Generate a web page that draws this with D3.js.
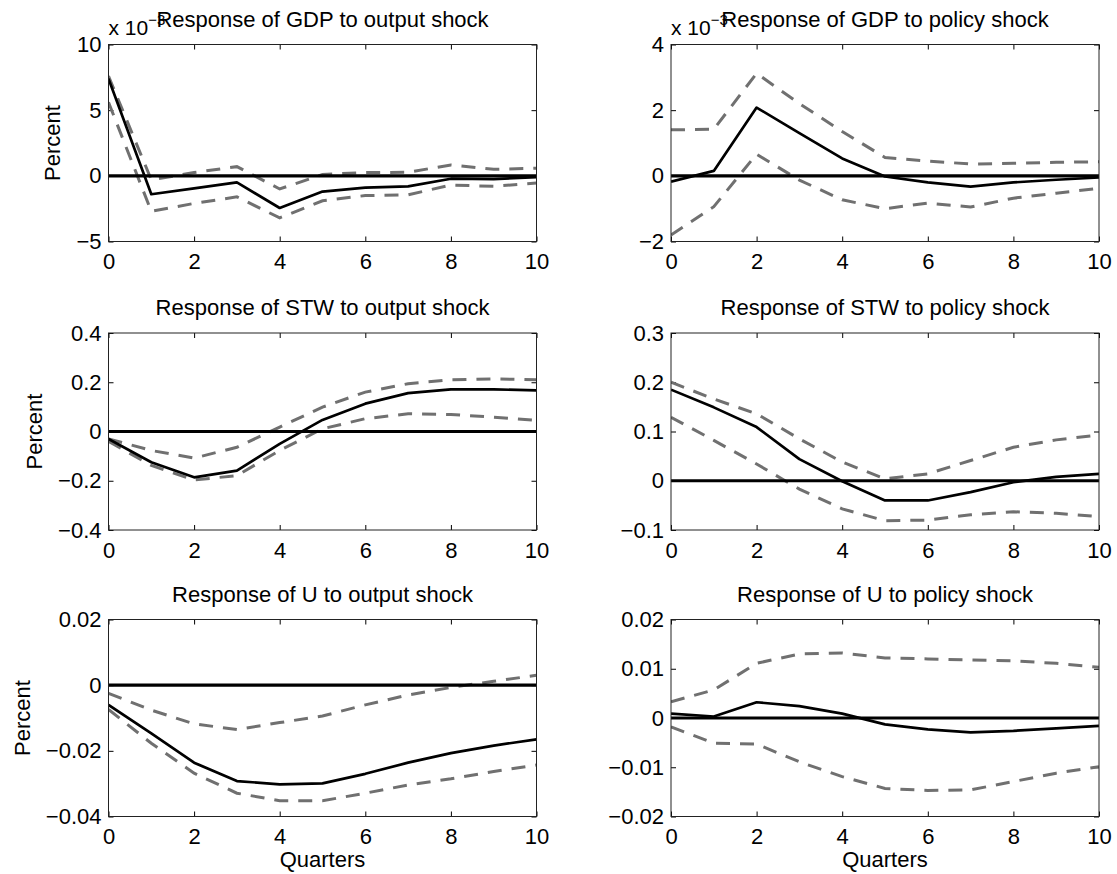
<!DOCTYPE html>
<html>
<head>
<meta charset="utf-8">
<script src="https://cdn.jsdelivr.net/npm/d3@7"></script>
<style>
  body { margin: 0; background: #fff; }
  svg { display: block; background: #fff; }
  text { font-family: "Liberation Sans", Arial, Helvetica, sans-serif; fill: #000; }
</style>
</head>
<body>
<svg id="chart" width="1117" height="874"></svg>
<script>
// Impulse responses over quarters 0..10: point estimate with upper/lower bands
const quarters = [0, 1, 2, 3, 4, 5, 6, 7, 8, 9, 10];
const xTicks = [0, 2, 4, 6, 8, 10];

// GDP responses, in units of 10^-3 percent
const gdpOutputIrf   = [7.4, -1.4, -0.95, -0.5, -2.45, -1.2, -0.9, -0.8, -0.22, -0.25, -0.1];
const gdpOutputUpper = [7.6, -0.3, 0.25, 0.7, -1.0, 0.1, 0.25, 0.27, 0.83, 0.5, 0.58];
const gdpOutputLower = [5.6, -2.7, -2.1, -1.6, -3.2, -1.9, -1.5, -1.45, -0.7, -0.8, -0.55];

const gdpPolicyIrf   = [-0.18, 0.15, 2.08, 1.3, 0.53, -0.02, -0.2, -0.33, -0.2, -0.12, -0.05];
const gdpPolicyUpper = [1.4, 1.42, 3.12, 2.2, 1.35, 0.56, 0.45, 0.36, 0.38, 0.41, 0.43];
const gdpPolicyLower = [-1.8, -0.94, 0.66, -0.13, -0.73, -1.0, -0.83, -0.95, -0.68, -0.53, -0.38];

// STW responses, percent
const stwOutputIrf   = [-0.03, -0.125, -0.186, -0.159, -0.05, 0.047, 0.113, 0.156, 0.171, 0.171, 0.167];
const stwOutputUpper = [-0.03, -0.077, -0.108, -0.064, 0.018, 0.099, 0.16, 0.194, 0.21, 0.214, 0.21];
const stwOutputLower = [-0.04, -0.138, -0.197, -0.179, -0.077, 0.011, 0.052, 0.072, 0.069, 0.058, 0.045];

const stwPolicyIrf   = [0.185, 0.149, 0.109, 0.044, -0.001, -0.04, -0.04, -0.023, -0.003, 0.008, 0.014];
const stwPolicyUpper = [0.2, 0.166, 0.136, 0.085, 0.038, 0.004, 0.014, 0.041, 0.068, 0.083, 0.093];
const stwPolicyLower = [0.129, 0.082, 0.034, -0.017, -0.057, -0.081, -0.08, -0.069, -0.063, -0.066, -0.073];

// Unemployment responses, percent
const uOutputIrf   = [-0.006, -0.0147, -0.0236, -0.0292, -0.0302, -0.0299, -0.027, -0.0236, -0.0207, -0.0184, -0.0165];
const uOutputUpper = [-0.0025, -0.0076, -0.0118, -0.0135, -0.0114, -0.0094, -0.006, -0.003, -0.0007, 0.0012, 0.003];
const uOutputLower = [-0.0074, -0.0177, -0.0268, -0.0329, -0.0352, -0.0352, -0.0329, -0.0304, -0.0285, -0.0263, -0.0243];

const uPolicyIrf   = [0.0009, 0.0003, 0.0032, 0.0024, 0.0009, -0.0013, -0.0023, -0.0029, -0.0026, -0.0021, -0.0016];
const uPolicyUpper = [0.0033, 0.0057, 0.0111, 0.013, 0.0132, 0.0122, 0.012, 0.0118, 0.0116, 0.0111, 0.0103];
const uPolicyLower = [-0.0018, -0.0051, -0.0053, -0.0089, -0.0119, -0.0143, -0.0147, -0.0146, -0.0129, -0.0112, -0.0099];

// Y-axis ticks and their labels
const gdpOutputTicks  = [-5, 0, 5, 10];
const gdpOutputLabels = ["\u22125", "0", "5", "10"];
const gdpPolicyTicks  = [-2, 0, 2, 4];
const gdpPolicyLabels = ["\u22122", "0", "2", "4"];
const stwOutputTicks  = [-0.4, -0.2, 0, 0.2, 0.4];
const stwOutputLabels = ["\u22120.4", "\u22120.2", "0", "0.2", "0.4"];
const stwPolicyTicks  = [-0.1, 0, 0.1, 0.2, 0.3];
const stwPolicyLabels = ["\u22120.1", "0", "0.1", "0.2", "0.3"];
const uOutputTicks    = [-0.04, -0.02, 0, 0.02];
const uOutputLabels   = ["\u22120.04", "\u22120.02", "0", "0.02"];
const uPolicyTicks    = [-0.02, -0.01, 0, 0.01, 0.02];
const uPolicyLabels   = ["\u22120.02", "\u22120.01", "0", "0.01", "0.02"];

const panels = [
  { title: "Response of GDP to output shock", irf: gdpOutputIrf, upper: gdpOutputUpper, lower: gdpOutputLower,
    domain: [-5, 10], ticks: gdpOutputTicks, labels: gdpOutputLabels, exponent: "\u22123", row: 0, col: 0 },
  { title: "Response of GDP to policy shock", irf: gdpPolicyIrf, upper: gdpPolicyUpper, lower: gdpPolicyLower,
    domain: [-2, 4], ticks: gdpPolicyTicks, labels: gdpPolicyLabels, exponent: "\u22123", row: 0, col: 1 },
  { title: "Response of STW to output shock", irf: stwOutputIrf, upper: stwOutputUpper, lower: stwOutputLower,
    domain: [-0.4, 0.4], ticks: stwOutputTicks, labels: stwOutputLabels, row: 1, col: 0 },
  { title: "Response of STW to policy shock", irf: stwPolicyIrf, upper: stwPolicyUpper, lower: stwPolicyLower,
    domain: [-0.1, 0.3], ticks: stwPolicyTicks, labels: stwPolicyLabels, row: 1, col: 1 },
  { title: "Response of U to output shock", irf: uOutputIrf, upper: uOutputUpper, lower: uOutputLower,
    domain: [-0.04, 0.02], ticks: uOutputTicks, labels: uOutputLabels, row: 2, col: 0 },
  { title: "Response of U to policy shock", irf: uPolicyIrf, upper: uPolicyUpper, lower: uPolicyLower,
    domain: [-0.02, 0.02], ticks: uPolicyTicks, labels: uPolicyLabels, row: 2, col: 1 }
];

// Grid geometry
const colLeft = [108.5, 671];
const rowTop = [44.5, 333, 619.5];
const plotW = 428;
const plotH = 197;
const fontSize = 22;
const tickLen = 5;
const font = '"Liberation Sans", Arial, Helvetica, sans-serif';

const svg = d3.select("#chart");

panels.forEach(p => {
  const x0 = colLeft[p.col], y0 = rowTop[p.row];
  const g = svg.append("g").attr("transform", `translate(${x0},${y0})`);

  const x = d3.scaleLinear().domain([0, 10]).range([0, plotW]);
  const y = d3.scaleLinear().domain(p.domain).range([plotH, 0]);

  const clipId = `clip-${p.row}-${p.col}`;
  g.append("clipPath").attr("id", clipId)
    .append("rect").attr("width", plotW).attr("height", plotH);

  // Axes with inward ticks on all four sides
  const labelOf = v => p.labels[p.ticks.indexOf(v)];
  const axisStyle = sel => {
    sel.select(".domain").remove();
    sel.selectAll(".tick line").attr("stroke", "#000").attr("stroke-width", 1);
    sel.selectAll("text").style("font-size", fontSize + "px")
      .style("font-family", font).attr("fill", "#000");
  };

  g.append("g").attr("transform", `translate(0,${plotH})`)
    .call(d3.axisBottom(x).tickValues(xTicks).tickSize(-tickLen).tickPadding(12).tickFormat(d3.format("d")))
    .call(axisStyle);
  g.append("g")
    .call(d3.axisTop(x).tickValues(xTicks).tickSize(-tickLen).tickFormat(""))
    .call(axisStyle);
  const yAxis = g.append("g")
    .call(d3.axisLeft(y).tickValues(p.ticks).tickSize(-tickLen).tickPadding(7).tickFormat(labelOf))
    .call(axisStyle);
  g.append("g").attr("transform", `translate(${plotW},0)`)
    .call(d3.axisRight(y).tickValues(p.ticks).tickSize(-tickLen).tickFormat(""))
    .call(axisStyle);

  const plot = g.append("g").attr("clip-path", `url(#${clipId})`);
  const line = d3.line().x((d, i) => x(quarters[i])).y(d => y(d));

  // Confidence bands
  [p.upper, p.lower].forEach(band => {
    plot.append("path").datum(band).attr("d", line)
      .attr("fill", "none").attr("stroke", "#707070").attr("stroke-width", 3)
      .attr("stroke-dasharray", "14,10");
  });

  // Point estimate
  plot.append("path").datum(p.irf).attr("d", line)
    .attr("fill", "none").attr("stroke", "#000").attr("stroke-width", 2.7)
    .attr("stroke-linejoin", "round");

  // Zero reference line
  plot.append("line")
    .attr("x1", x(0)).attr("x2", x(10)).attr("y1", y(0)).attr("y2", y(0))
    .attr("stroke", "#000").attr("stroke-width", 3.2);

  // Plot box
  g.append("rect").attr("width", plotW).attr("height", plotH)
    .attr("fill", "none").attr("stroke", "#222").attr("stroke-width", 1);

  // Exponent multiplier above the y axis
  if (p.exponent) {
    const ex = g.append("text").attr("x", 0).attr("y", -10).style("font-size", "21px");
    ex.append("tspan").text("x 10");
    ex.append("tspan").attr("dy", -10).style("font-size", "15px").text(p.exponent);
  }

  // Title
  g.append("text").attr("x", plotW / 2).attr("y", -18)
    .attr("text-anchor", "middle").style("font-size", fontSize + "px").text(p.title);

  // Y label sits just left of the widest tick label
  if (p.col === 0) {
    let widest = 0;
    yAxis.selectAll("text").each(function () { widest = Math.max(widest, this.getComputedTextLength()); });
    const labelX = -(tickLen > 0 ? 7 : 0) - widest - 16;
    g.append("text")
      .attr("transform", `translate(${labelX},${plotH / 2}) rotate(-90)`)
      .attr("text-anchor", "middle").style("font-size", fontSize + "px").text("Percent");
  }
  if (p.row === 2) {
    g.append("text").attr("x", plotW / 2).attr("y", plotH + 50)
      .attr("text-anchor", "middle").style("font-size", fontSize + "px").text("Quarters");
  }
});
</script>
</body>
</html>
